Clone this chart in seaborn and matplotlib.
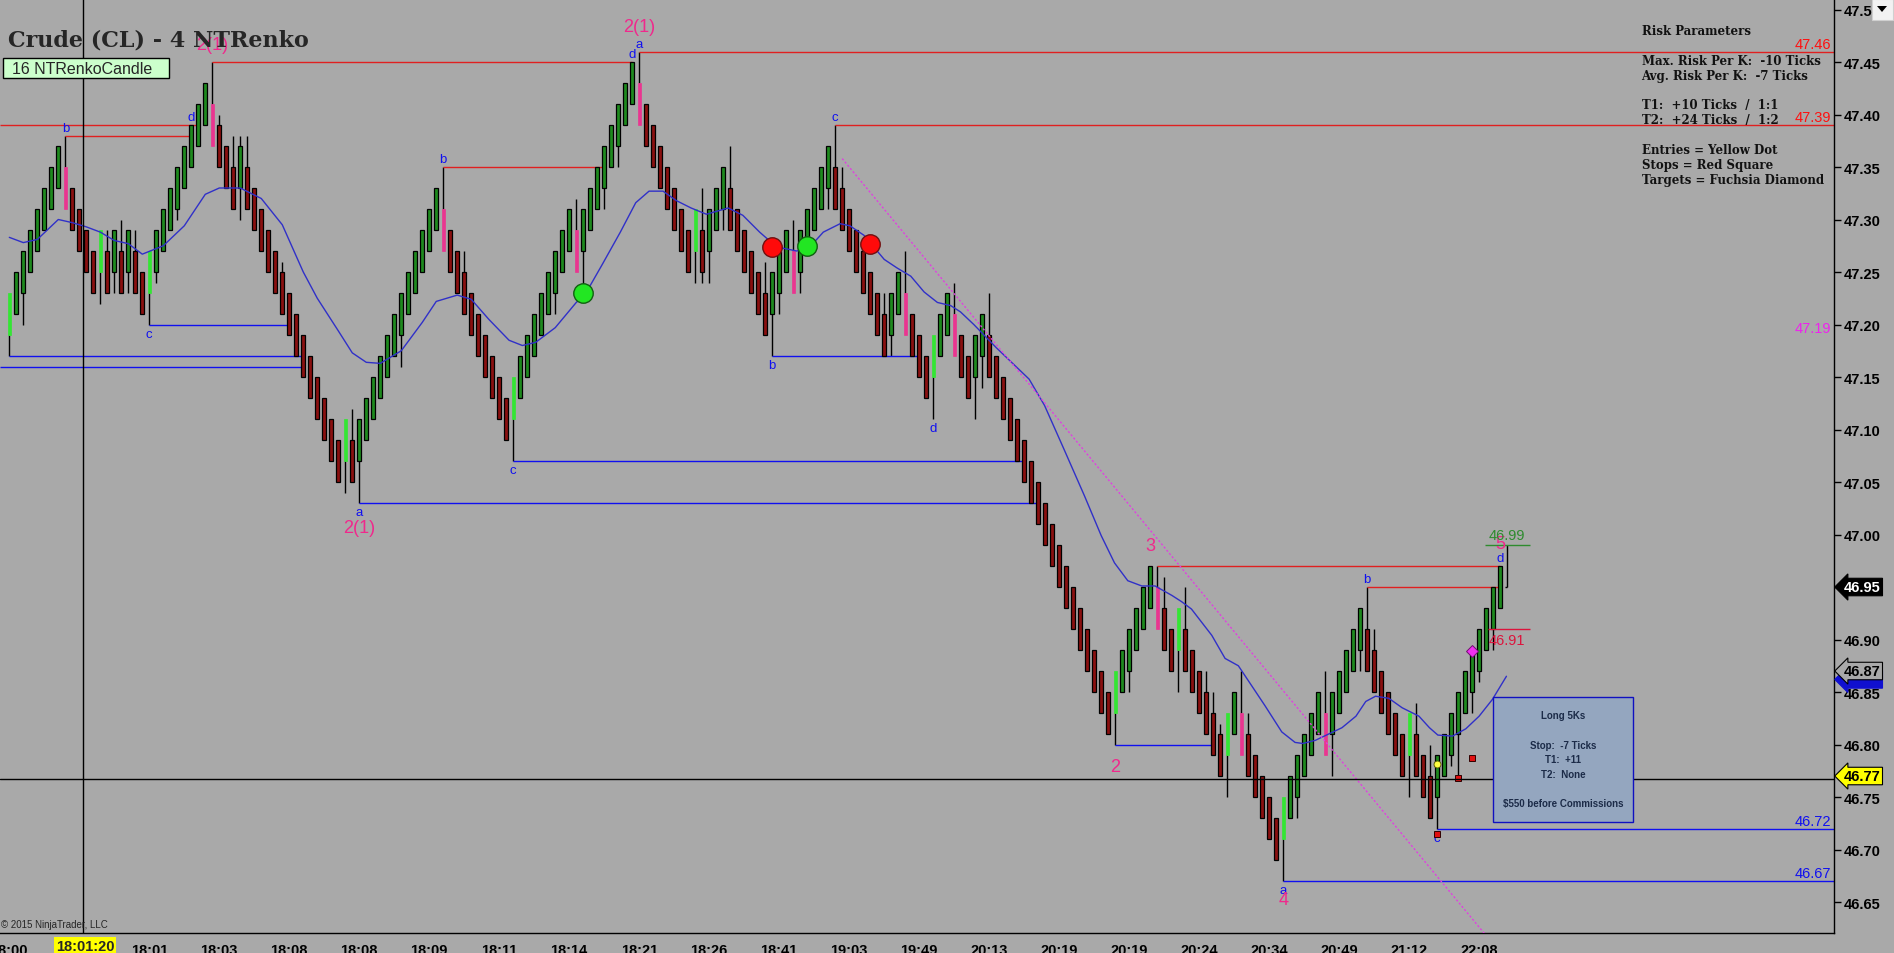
import numpy as np
import pandas as pd
import seaborn as sns
import matplotlib.pyplot as plt
from matplotlib.patches import Rectangle, Polygon
from matplotlib.transforms import blended_transform_factory

W, H = 1894, 954
BG = '#a9a9a9'

# renko closes, one per bar (brick = 4 ticks)
closes = [
    47.23, 47.25, 47.27, 47.29, 47.31, 47.33, 47.35, 47.37, 47.31, 47.29,
    47.27, 47.25, 47.23, 47.29, 47.23, 47.29, 47.23, 47.29, 47.23, 47.21,
    47.27, 47.29, 47.31, 47.33, 47.35, 47.37, 47.39, 47.41, 47.43, 47.37,
    47.35, 47.33, 47.31, 47.37, 47.31, 47.29, 47.27, 47.25, 47.23, 47.21,
    47.19, 47.17, 47.15, 47.13, 47.11, 47.09, 47.07, 47.05, 47.11, 47.05,
    47.11, 47.13, 47.15, 47.17, 47.19, 47.21, 47.23, 47.25, 47.27, 47.29,
    47.31, 47.33, 47.27, 47.25, 47.23, 47.21, 47.19, 47.17, 47.15, 47.13,
    47.11, 47.09, 47.15, 47.17, 47.19, 47.21, 47.23, 47.25, 47.27, 47.29,
    47.31, 47.25, 47.31, 47.33, 47.35, 47.37, 47.39, 47.41, 47.43, 47.45,
    47.39, 47.37, 47.35, 47.33, 47.31, 47.29, 47.27, 47.25, 47.31, 47.25,
    47.31, 47.33, 47.35, 47.29, 47.27, 47.25, 47.23, 47.21, 47.19, 47.25,
    47.27, 47.29, 47.23, 47.29, 47.31, 47.33, 47.35, 47.37, 47.31, 47.29,
    47.27, 47.25, 47.23, 47.21, 47.19, 47.17, 47.23, 47.25, 47.19, 47.17,
    47.15, 47.13, 47.19, 47.21, 47.23, 47.17, 47.15, 47.13, 47.19, 47.21,
    47.15, 47.13, 47.11, 47.09, 47.07, 47.05, 47.03, 47.01, 46.99, 46.97,
    46.95, 46.93, 46.91, 46.89, 46.87, 46.85, 46.83, 46.81, 46.87, 46.89,
    46.91, 46.93, 46.95, 46.97, 46.91, 46.89, 46.87, 46.93, 46.87, 46.85,
    46.83, 46.81, 46.79, 46.77, 46.83, 46.85, 46.79, 46.77, 46.75, 46.73,
    46.71, 46.69, 46.75, 46.77, 46.79, 46.81, 46.83, 46.85, 46.79, 46.85,
    46.87, 46.89, 46.91, 46.93, 46.87, 46.85, 46.83, 46.81, 46.79, 46.77,
    46.83, 46.77, 46.75, 46.73, 46.79, 46.81, 46.83, 46.85, 46.87, 46.89,
    46.91, 46.93, 46.95, 46.97,
]
lime_bars = [0, 13, 20, 48, 72, 98, 132, 158, 167, 174, 182, 200]
pink_bars = [8, 29, 62, 81, 90, 112, 128, 135, 164, 176, 188]

wick_hi = {8: 47.38, 14: 47.29, 16: 47.30, 18: 47.29, 29: 47.45, 30: 47.40,
           32: 47.38, 33: 47.38, 34: 47.38, 39: 47.26, 49: 47.12, 62: 47.35,
           65: 47.27, 81: 47.32, 90: 47.46, 99: 47.33, 103: 47.37, 108: 47.26,
           112: 47.30, 118: 47.39, 119: 47.35, 125: 47.23, 128: 47.27,
           135: 47.24, 140: 47.23, 164: 46.97, 165: 46.96, 168: 46.95,
           171: 46.87, 172: 46.85, 173: 46.82, 176: 46.87, 177: 46.83,
           188: 46.87, 194: 46.95, 195: 46.91, 201: 46.84, 203: 46.80}
wick_lo = {0: 47.17, 2: 47.20, 13: 47.22, 15: 47.23, 17: 47.23, 20: 47.20,
           21: 47.24, 24: 47.30, 33: 47.30, 48: 47.04, 50: 47.03, 56: 47.16,
           72: 47.07, 78: 47.21, 82: 47.23, 85: 47.31, 87: 47.35, 98: 47.24,
           99: 47.24, 100: 47.24, 102: 47.29, 109: 47.17, 110: 47.21,
           113: 47.23, 117: 47.31, 126: 47.17, 132: 47.11, 138: 47.11,
           139: 47.14, 158: 46.80, 160: 46.85, 167: 46.85, 174: 46.75,
           182: 46.67, 184: 46.73, 189: 46.77, 193: 46.87, 200: 46.75,
           204: 46.72, 206: 46.78, 207: 46.77, 209: 46.83, 210: 46.86,
           212: 46.89}
forming_bar = (214, 46.95, 46.99)

# moving average
ma_x = [0, 2, 4, 7, 9, 11, 13, 15, 17, 19, 22, 25, 28, 30, 33, 36, 39, 42, 44,
        47, 49, 51, 53, 56, 59, 61, 64, 66, 68.5, 71.4, 73.3, 75.2, 78, 81,
        82.3, 84.7, 87.3, 89.5, 91.4, 93.4, 95.3, 97.4, 99.6, 102.7, 104.8,
        107.2, 109.6, 112.5, 114.4, 116.3, 118.7, 120.1, 122.1, 125, 126.8,
        128.8, 130.7, 132.6, 134.5, 135.9, 137.8, 141, 145.7, 147.9, 150.7,
        153.6, 156, 157.9, 159.8, 161.8, 163.7, 166.1, 167.5, 168.9, 171.8,
        173.7, 175.6, 177.5, 179.4, 181.8, 183.7, 184.8, 186.6, 188.5, 190.4,
        192.4, 193.8, 195.2, 197.1, 199, 201.4, 202.9, 204.1, 206.2, 208.1,
        210, 211.9, 213.9]
ma_y = [47.283, 47.278, 47.281, 47.300, 47.297, 47.293, 47.288, 47.280, 47.277,
        47.267, 47.275, 47.294, 47.324, 47.330, 47.330, 47.320, 47.295, 47.250,
        47.225, 47.194, 47.173, 47.164, 47.163, 47.175, 47.202, 47.222, 47.228,
        47.224, 47.205, 47.185, 47.180, 47.183, 47.197, 47.221, 47.229, 47.257,
        47.288, 47.316, 47.327, 47.327, 47.318, 47.311, 47.305, 47.311, 47.304,
        47.288, 47.274, 47.270, 47.274, 47.288, 47.296, 47.294, 47.285, 47.262,
        47.254, 47.246, 47.231, 47.221, 47.218, 47.212, 47.200, 47.178, 47.148,
        47.123, 47.081, 47.037, 46.999, 46.973, 46.956, 46.951, 46.951, 46.942,
        46.936, 46.929, 46.904, 46.882, 46.875, 46.856, 46.837, 46.812, 46.802,
        46.801, 46.804, 46.810, 46.816, 46.827, 46.841, 46.846, 46.844, 46.835,
        46.827, 46.816, 46.809, 46.808, 46.815, 46.827, 46.843, 46.865]

trend_x = [119, 212]
trend_y = [47.358, 46.61]

# swing levels: (price, start bar, end bar); None = chart edge
red_levels = [(47.39, None, 27), (47.38, 8, 26), (47.45, 29, 89), (47.35, 62, 85),
              (47.46, 90, None), (47.39, 118, None), (46.97, 164, 213),
              (46.95, 194, 213)]
blue_levels = [(47.17, 0, 42), (47.16, None, 42), (47.20, 20, 40), (47.03, 50, 147),
               (47.07, 72, 145), (47.17, 109, 130), (46.80, 158, 172),
               (46.67, 182, None), (46.72, 204, None)]
swing_letters = [('b', 8, 47.38, 1), ('d', 26, 47.39, 1), ('c', 20, 47.20, -1),
                 ('d', 89, 47.45, 1), ('a', 90, 47.46, 1), ('a', 50, 47.03, -1),
                 ('b', 62, 47.35, 1), ('c', 72, 47.07, -1), ('c', 118, 47.39, 1),
                 ('b', 109, 47.17, -1), ('d', 132, 47.11, -1), ('a', 182, 46.67, -1),
                 ('b', 194, 46.95, 1), ('c', 204, 46.72, -1), ('d', 213, 46.97, 1)]
wave_labels = [('2(1)', 29, 47.467), ('2(1)', 90, 47.484), ('2(1)', 50, 47.007),
               ('3', 163, 46.990), ('2', 158, 46.779), ('4', 182, 46.652),
               ('5', 213, 46.991)]

entries_green = ([82, 114], [47.23, 47.275])
exits_red = ([109, 123], [47.274, 47.277])
yellow_dot = ([204], [46.781])
red_squares = ([204, 207, 209], [46.715, 46.768, 46.787])
fuchsia_diamond = ([209], [46.889])

tick_bars = list(range(0, 220, 10))
tick_labels = ['18:00', '', '18:01', '18:03', '18:08', '18:08', '18:09', '18:11',
               '18:14', '18:21', '18:26', '18:41', '19:03', '19:49', '20:13',
               '20:19', '20:19', '20:24', '20:34', '20:49', '21:12', '22:08']
price_ticks = [46.65, 46.70, 46.75, 46.80, 46.85, 46.90, 46.95, 47.00, 47.05,
               47.10, 47.15, 47.20, 47.25, 47.30, 47.35, 47.40, 47.45, 47.50]

brick = 0.04
cross_bar, cross_price = 10.53, 46.767

# ---------------------------------------------------------------
sns.set_style("white")
plt.rcParams['font.family'] = ['Liberation Sans', 'DejaVu Sans']

fig = plt.figure(figsize=(W / 100, H / 100), dpi=100, facecolor=BG)
ax = fig.add_axes([0, (H - 934) / H, 1834 / W, 934 / H])
ax.set_facecolor(BG)
XMIN, XMAX = -1.33, 260.7
ax.set_xlim(XMIN, XMAX)
ax.set_ylim(46.6205, 47.51)


def fx(px):
    return px / W


def fy(py):
    return 1 - py / H


# opens from renko rule
opens = []
prev = closes[0] - 0.02
for c in closes:
    d = 1 if c > prev else -1
    opens.append(round(c - d * brick, 2))
    prev = c

df = pd.DataFrame({'bar': np.arange(len(closes)), 'open': opens, 'close': closes})
df['bottom'] = df[['open', 'close']].min(axis=1)
df['up'] = df['close'] > df['open']
df['kind'] = np.where(df['up'], 'g', 'r')
df.loc[df['bar'].isin(lime_bars), 'kind'] = 'G'
df.loc[df['bar'].isin(pink_bars), 'kind'] = 'P'

# wicks
for i, hi in wick_hi.items():
    ax.vlines(i, max(opens[i], closes[i]), hi, color='black', lw=1, zorder=2)
for i, lo in wick_lo.items():
    ax.vlines(i, lo, min(opens[i], closes[i]), color='black', lw=1, zorder=2)
fb, flo, fhi = forming_bar
ax.vlines(fb, flo, fhi, color='black', lw=1, zorder=2)
ax.hlines(flo, fb - 0.3, fb, color='black', lw=1, zorder=2)

styles = {'g': ('#1e8a1e', 'black', 0.55, 0.9),
          'r': ('#8a1010', 'black', 0.55, 0.9),
          'G': ('#33e633', '#33e633', 0.45, 0.5),
          'P': ('#ea3590', '#ea3590', 0.45, 0.5)}
for kind, (face, edge, w, lw) in styles.items():
    sub = df[df['kind'] == kind]
    ax.bar(sub['bar'], brick, bottom=sub['bottom'], width=w, color=face,
           edgecolor=edge, linewidth=lw, zorder=3)

# moving average
sns.lineplot(x=ma_x, y=ma_y, ax=ax, color='#3030c8', linewidth=1.0,
             estimator=None, zorder=4)

# trend line
ax.plot(trend_x, trend_y, color='#e040e0', lw=1.0, ls=(0, (1.5, 1.5)), zorder=4)

# swing levels
for levels, col in [(red_levels, '#e02020'), (blue_levels, '#1010f0')]:
    for p, s, e in levels:
        ax.hlines(p, XMIN if s is None else s, XMAX if e is None else e,
                  color=col, lw=1.0, zorder=2.5)
for ch, i, p, side in swing_letters:
    if side > 0:
        ax.text(i, p + 0.0015, ch, color='#1010f0', fontsize=9.5, ha='center',
                va='bottom', zorder=6)
    else:
        ax.text(i, p - 0.003, ch, color='#1010f0', fontsize=9.5, ha='center',
                va='top', zorder=6)
for txt, i, p in wave_labels:
    ax.text(i, p, txt, color='#f0288c', fontsize=13, ha='center', va='center',
            zorder=6)

# trade markers
ax.plot(*entries_green, 'o', ms=14, mfc='#22e622', mec='#106010', mew=1, zorder=7)
ax.plot(*exits_red, 'o', ms=14, mfc='#ff0a0a', mec='#701010', mew=1, zorder=7)
ax.plot(*yellow_dot, 'o', ms=5, mfc='#ffff40', mec='#505000', mew=0.6, zorder=7)
ax.plot(*red_squares, 's', ms=5, mfc='#e01010', mec='#300000', mew=0.7, zorder=7)
ax.plot(*fuchsia_diamond, 'D', ms=6.5, mfc='#f030f0', mec='#701070', mew=0.7,
        zorder=7)

# target / stop marks near last bar
ax.hlines(46.99, 210.8, 217.2, color='#2e8b2e', lw=1, zorder=5)
ax.text(214, 46.993, '46.99', color='#2e8b2e', fontsize=10.5, ha='center',
        va='bottom', zorder=6)
ax.hlines(46.91, 211.2, 217.2, color='#dc143c', lw=1, zorder=5)
ax.text(214, 46.906, '46.91', color='#dc143c', fontsize=10.5, ha='center',
        va='top', zorder=6)

# labels inside right edge
edge_labels = [(47.46, '47.46', '#ff1010', 'bottom'), (47.39, '47.39', '#ff1010', 'bottom'),
               (47.197, '47.19', '#ee22ee', 'center'), (46.72, '46.72', '#1010f0', 'bottom'),
               (46.67, '46.67', '#1010f0', 'bottom')]
for p, txt, col, va in edge_labels:
    ax.text(XMAX - 0.4, p + (0.0008 if va == 'bottom' else 0), txt, color=col,
            fontsize=10.5, ha='right', va=va, zorder=6)

# crosshair
ax.axvline(cross_bar, color='black', lw=1, zorder=8)
ax.axhline(cross_price, color='black', lw=1, zorder=8)

# axes styling
for s in ['left', 'top']:
    ax.spines[s].set_visible(False)
for s in ['right', 'bottom']:
    ax.spines[s].set_color('black')
    ax.spines[s].set_linewidth(1)
ax.yaxis.tick_right()
ax.set_yticks(price_ticks)
ax.set_yticklabels(['%.2f' % p if p < 47.5 else '47.5' for p in price_ticks])
ax.set_xticks(tick_bars)
ax.set_xticklabels(tick_labels)
ax.tick_params(axis='y', direction='out', length=5, width=1, pad=2,
               labelsize=10.5, colors='black')
ax.tick_params(axis='x', direction='out', length=5, width=1, pad=2,
               labelsize=10.5, colors='black')
for lab in ax.get_xticklabels() + ax.get_yticklabels():
    lab.set_fontweight('bold')
ax.grid(False)

tr_xa = blended_transform_factory(ax.transData, ax.transAxes)
ax.text(cross_bar + 0.3, -0.0135, '18:01:20', transform=tr_xa, fontsize=10.5,
        fontweight='bold', ha='center', va='center', clip_on=False, zorder=9,
        bbox=dict(boxstyle='square,pad=0.12', fc='#ffff00', ec='none'))

# right axis price tags
tr_ay = blended_transform_factory(ax.transAxes, ax.transData)
tags = [(46.95, '46.95', 'black', 'white', 'black'),
        (46.862, '46.87', '#1010d0', '#1010d0', '#1010d0'),
        (46.87, '46.87', BG, 'black', 'black'),
        (46.77, '46.77', '#ffff00', 'black', 'black')]
for p, txt, fc, tc, ec in tags:
    ax.text(1.0 + 10 / 1834, p, txt, transform=tr_ay, fontsize=10.5,
            fontweight='bold', color=tc, ha='left', va='center', clip_on=False,
            zorder=9, bbox=dict(boxstyle='larrow,pad=0.12', fc=fc, ec=ec, lw=0.8))

# header texts
fig.text(fx(8), fy(46.7), 'Crude (CL) - 4 NTRenko', fontsize=16,
         fontweight='bold', family='DejaVu Serif', va='baseline', zorder=5)
fig.patches.append(Rectangle((fx(3.3), fy(79.3)), fx(166), 20 / H,
                             transform=fig.transFigure, fc='#ccffcc', ec='black',
                             lw=1, zorder=4))
fig.text(fx(11.5), fy(69.5), '16 NTRenkoCandle', fontsize=11.5, va='center',
         zorder=6)

risk_lines = [('Risk Parameters', 31.7), ('Max. Risk Per K:  -10 Ticks', 61.7),
              ('Avg. Risk Per K:  -7 Ticks', 76.7), ('T1:  +10 Ticks  /  1:1', 106),
              ('T2:  +24 Ticks  /  1:2', 120.7), ('Entries = Yellow Dot', 150.7),
              ('Stops = Red Square', 165.7), ('Targets = Fuchsia Diamond', 180.7)]
for txt, yy in risk_lines:
    fig.text(fx(1641.5), fy(yy), txt, fontsize=8.5, fontweight='bold',
             family='DejaVu Serif', color='#111111', va='center', zorder=6)

# trade info box
fig.patches.append(Rectangle((fx(1493.3), fy(822.7)), fx(139.4), 124.4 / H,
                             transform=fig.transFigure, fc='#94a6bf', ec='#1010c0',
                             lw=1, zorder=3))
info_lines = [('Long 5Ks', 716), ('Stop:  -7 Ticks', 746), ('T1:  +11', 760),
              ('T2:  None', 775), ('$550 before Commissions', 804)]
for txt, yy in info_lines:
    fig.text(fx(1563), fy(yy), txt, fontsize=7, fontweight='bold',
             color='#1c2b48', ha='center', va='center', zorder=6)

fig.text(fx(1), fy(925), '\u00a9 2015 NinjaTrader, LLC', fontsize=7, va='center')

# dropdown button
fig.patches.append(Rectangle((fx(1872), fy(21)), fx(21), 21 / H,
                             transform=fig.transFigure, fc='#f2f2f2', ec='#d0d0d0',
                             lw=0.8))
fig.patches.append(Polygon([(fx(1877), fy(7)), (fx(1887), fy(7)), (fx(1882), fy(13))],
                           closed=True, transform=fig.transFigure, fc='black',
                           ec='none'))

fig.savefig('out.png', dpi=100, facecolor=BG)
